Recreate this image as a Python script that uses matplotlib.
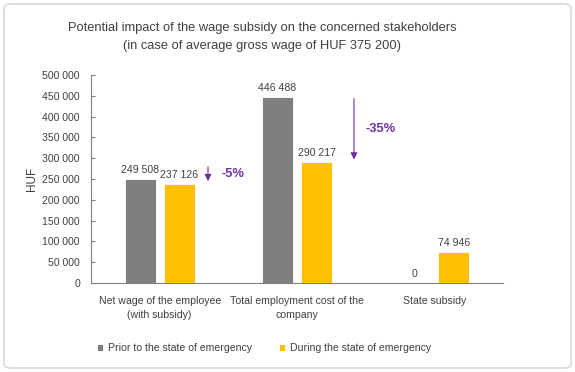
import matplotlib.pyplot as plt
import numpy as np
from matplotlib.patches import FancyBboxPatch

plt.rcParams['font.family'] = ['Liberation Sans Narrow', 'Liberation Sans', 'DejaVu Sans']

# Data
categories = ['Net wage of the employee\n(with subsidy)',
              'Total employment cost of the\ncompany',
              'State subsidy']
prior = [249508, 446488, 0]
during = [237126, 290217, 74946]
series_names = ['Prior to the state of emergency', 'During the state of emergency']
changes = ['-5%', '-35%']

text_col = '#404040'
gray = '#7f7f7f'
yellow = '#ffc000'
purple = '#7030a0'
small = 7.6

fig = plt.figure(figsize=(5.75, 3.72), dpi=100)
ax = fig.add_axes([91 / 575, 1 - 283 / 372, 412 / 575, 208 / 372])

x = np.arange(len(categories))
w = 0.225
off = 0.142
b1 = ax.bar(x - off, prior, w, color=gray, edgecolor='white', linewidth=0.6,
            label=series_names[0])
b2 = ax.bar(x + off, during, w, color=yellow, edgecolor='white', linewidth=0.6,
            label=series_names[1])

def fmt(v):
    return f'{v:,}'.replace(',', ' ')

for bars, vals in [(b1, prior), (b2, during)]:
    for r, v in zip(bars, vals):
        ax.text(r.get_x() + r.get_width() / 2, v + 10000, fmt(v),
                ha='center', va='bottom', fontsize=small, color=text_col)

ax.set_ylim(0, 500000)
ax.set_xlim(-0.5, 2.5)
ax.set_yticks(np.arange(0, 500001, 50000))
ax.set_yticklabels([fmt(v) for v in range(0, 500001, 50000)])
ax.set_xticks(x)
ax.set_xticklabels(categories, linespacing=1.6)
ax.tick_params(axis='both', labelsize=small, colors=text_col, length=0, pad=9)
ax.tick_params(axis='y', length=3, direction='in', pad=8, color='#808080')
for s in ['top', 'right']:
    ax.spines[s].set_visible(False)
for s in ['left', 'bottom']:
    ax.spines[s].set_color('#808080')
    ax.spines[s].set_linewidth(0.8)
ax.set_ylabel('HUF', fontsize=8.5, color=text_col, labelpad=3)

# change arrows
arrow_x = [0.352, 1.415]
arrow_y = [(286000, 238000), (450000, 290000)]
text_x = [0.45, 1.5]
for ax_x, (y0, y1), tx, lab in zip(arrow_x, arrow_y, text_x, changes):
    ax.annotate('', xy=(ax_x, y1), xytext=(ax_x, y0),
                arrowprops=dict(arrowstyle='-|>', color=purple, lw=0.8,
                                mutation_scale=10))
    ax.text(tx, (y0 + y1) / 2, lab, color=purple, fontsize=9.3,
            fontweight='bold', ha='left', va='center')

fig.text(262 / 575, 1 - 37 / 372,
         'Potential impact of the wage subsidy on the concerned stakeholders\n'
         '(in case of average gross wage of HUF 375 200)',
         ha='center', va='center', fontsize=9.3, color=text_col, linespacing=1.75)

fig.legend(handles=[b1, b2], loc='center', bbox_to_anchor=(264 / 575, 1 - 348 / 372),
           ncol=2, frameon=False, fontsize=small, handlelength=0.6, handleheight=0.6,
           columnspacing=2.6, handletextpad=0.4, labelcolor=text_col)

border = FancyBboxPatch((4 / 575, 4 / 372), 567 / 575, 364 / 372,
                        boxstyle='round,pad=0,rounding_size=0.012',
                        transform=fig.transFigure, fill=False,
                        edgecolor='#d9d9d9', linewidth=1.2)
fig.patches.append(border)

fig.savefig('out.png', dpi=100)
